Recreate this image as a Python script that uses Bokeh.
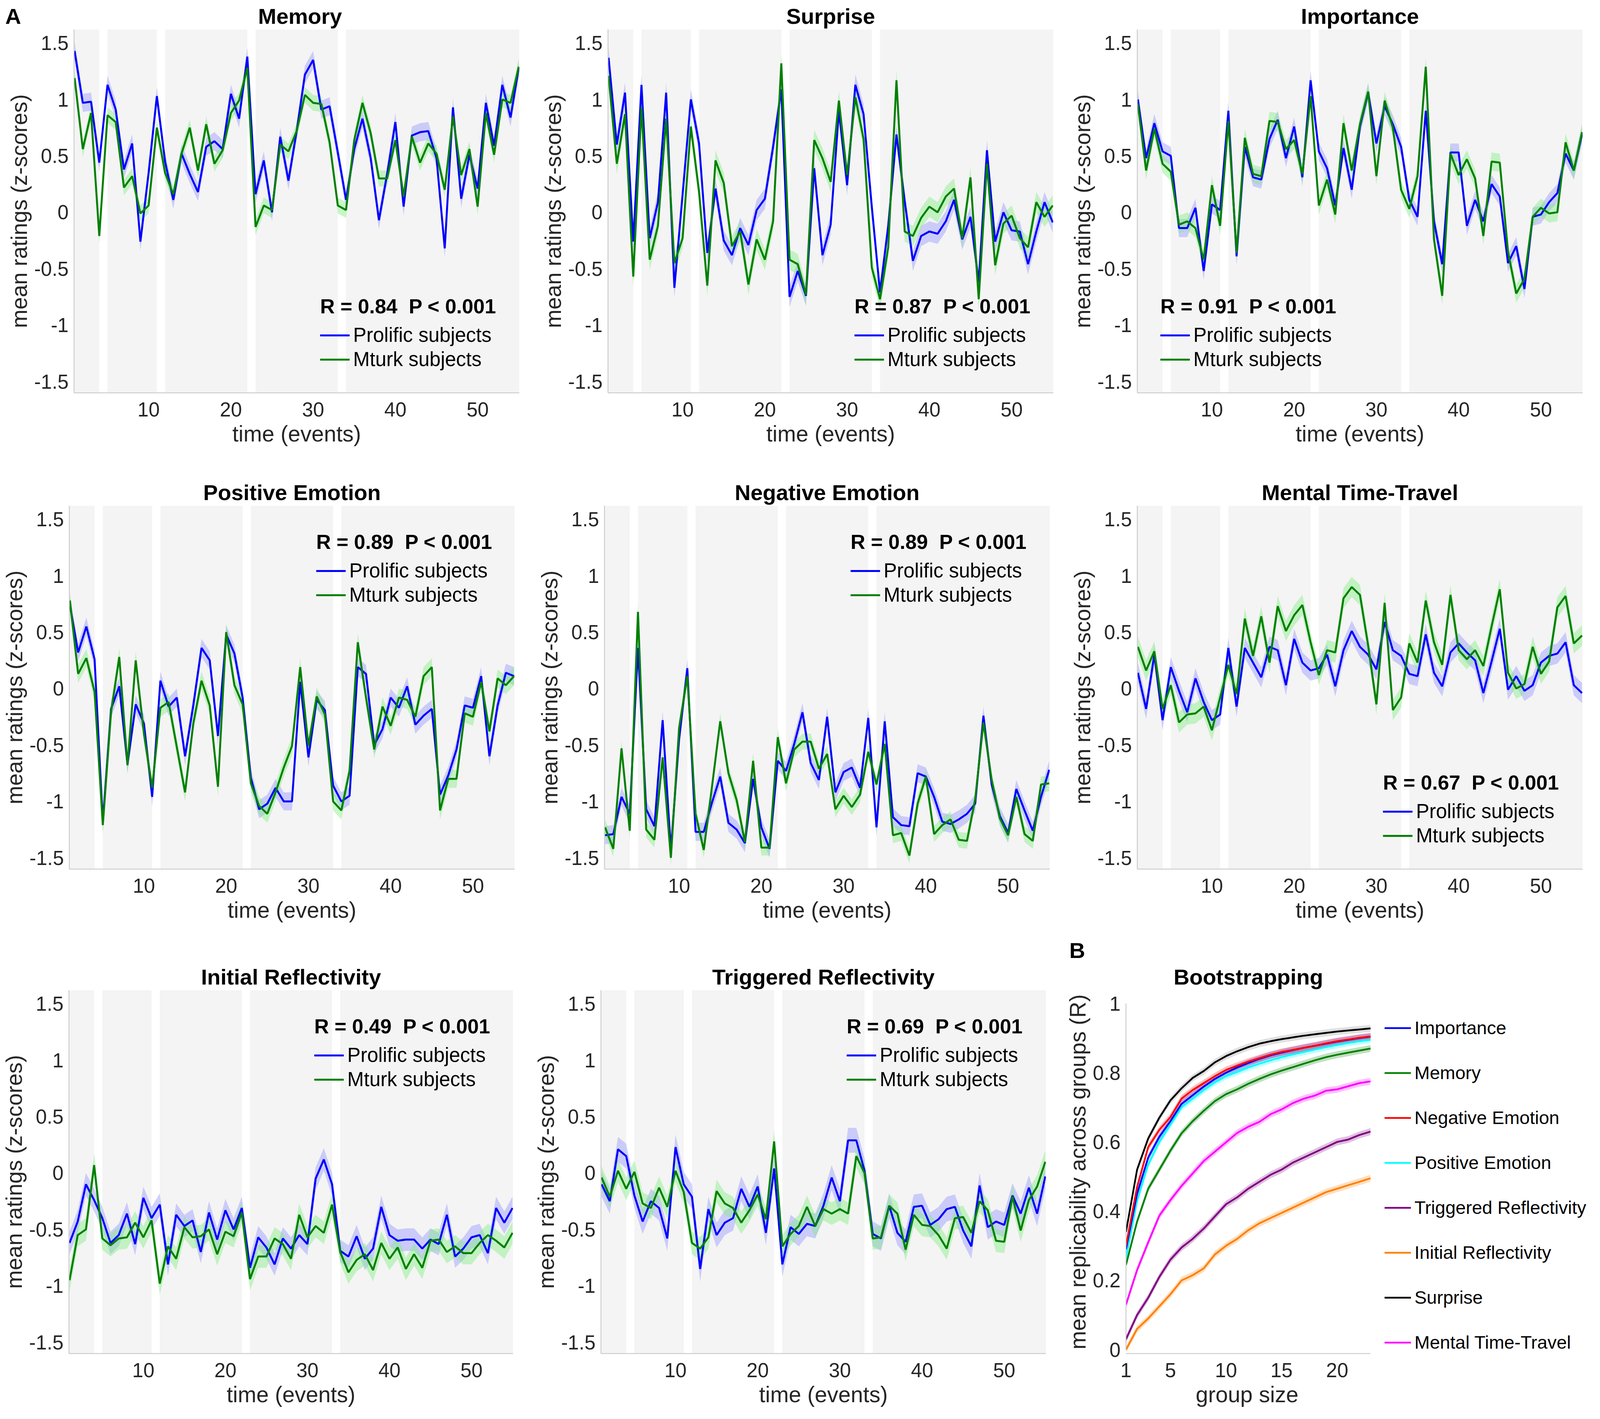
from bokeh.plotting import figure
from bokeh.models import (Range1d, FixedTicker, Legend, LegendItem, Label,
                          BoxAnnotation, CustomJSTickFormatter, Title)
from bokeh.layouts import row, column
from bokeh.embed import file_html
from bokeh.resources import INLINE

# ---------------------------------------------------------------- data
events = list(range(1, 56))
segment_starts = [1, 5, 12, 23, 34]
segment_ends = [4, 11, 22, 33, 55]

y_ticks = [-1.5, -1, -0.5, 0, 0.5, 1, 1.5]
y_tick_labels = ["-1.5", "-1", "-0.5", "0", "0.5", "1", "1.5"]
x_ticks = [10, 20, 30, 40, 50]
x_tick_labels = ["10", "20", "30", "40", "50"]

memory_prolific = [1.43, 0.97, 0.98, 0.44, 1.13, 0.91, 0.38, 0.61, -0.26, 0.35,
                   1.03, 0.45, 0.11, 0.52, 0.34, 0.18, 0.58, 0.63, 0.56, 1.05,
                   0.83, 1.38, 0.16, 0.46, 0.00, 0.67, 0.28, 0.72, 1.22, 1.35,
                   0.91, 0.94, 0.53, 0.11, 0.56, 0.83, 0.48, -0.07, 0.34, 0.80,
                   0.05, 0.68, 0.71, 0.72, 0.48, -0.32, 0.93, 0.12, 0.51, 0.21,
                   0.97, 0.59, 1.13, 0.84, 1.28]
memory_mturk = [1.19, 0.56, 0.88, -0.21, 0.86, 0.80, 0.22, 0.32, -0.01, 0.06,
                0.75, 0.35, 0.16, 0.52, 0.75, 0.37, 0.78, 0.43, 0.55, 0.88,
                0.99, 1.28, -0.13, 0.06, 0.02, 0.60, 0.54, 0.72, 1.04, 0.97,
                0.96, 0.62, 0.06, 0.02, 0.64, 0.97, 0.70, 0.30, 0.30, 0.64,
                0.14, 0.67, 0.44, 0.61, 0.52, 0.20, 0.85, 0.33, 0.56, 0.05,
                0.88, 0.51, 1.00, 0.97, 1.29]
surprise_prolific = [1.37, 0.60, 1.06, -0.26, 1.13, -0.23, 0.09, 1.06, -0.67, 0.16,
                     1.00, 0.61, -0.36, 0.21, -0.25, -0.38, -0.14, -0.29, 0.02, 0.12,
                     0.58, 1.09, -0.75, -0.52, -0.74, 0.39, -0.38, -0.11, 0.90, 0.24,
                     1.13, 0.87, 0.05, -0.71, -0.12, 0.69, 0.10, -0.43, -0.21, -0.17,
                     -0.19, -0.08, 0.11, -0.24, -0.04, -0.62, 0.55, -0.26, 0.00, -0.16,
                     -0.17, -0.46, -0.17, 0.09, -0.09]
surprise_mturk = [1.21, 0.43, 0.87, -0.57, 0.93, -0.42, -0.12, 0.83, -0.45, -0.23,
                  0.76, 0.18, -0.65, 0.46, 0.26, -0.30, -0.17, -0.64, -0.24, -0.42,
                  -0.08, 1.32, -0.42, -0.46, -0.73, 0.64, 0.48, 0.27, 0.99, 0.33,
                  1.02, 0.65, -0.49, -0.77, -0.31, 1.17, -0.17, -0.21, -0.05, 0.05,
                  0.00, 0.14, 0.21, -0.23, 0.31, -0.77, 0.43, -0.47, -0.10, -0.03,
                  -0.23, -0.31, 0.09, -0.04, 0.06]
importance_prolific = [1.00, 0.48, 0.79, 0.54, 0.50, -0.14, -0.14, 0.04, -0.52, 0.07,
                       0.02, 0.90, -0.39, 0.58, 0.31, 0.29, 0.65, 0.82, 0.48, 0.76,
                       0.31, 1.17, 0.54, 0.39, 0.06, 0.57, 0.20, 0.76, 1.06, 0.61,
                       0.94, 0.78, 0.58, 0.11, -0.04, 0.90, -0.08, -0.46, 0.53, 0.53,
                       -0.12, 0.11, -0.08, 0.25, 0.14, -0.45, -0.30, -0.68, -0.04, -0.02,
                       0.09, 0.17, 0.52, 0.37, 0.69]
importance_mturk = [0.96, 0.37, 0.74, 0.43, 0.36, -0.11, -0.08, -0.14, -0.42, 0.24,
                    -0.12, 0.81, -0.36, 0.66, 0.34, 0.32, 0.81, 0.80, 0.56, 0.64,
                    0.34, 1.03, 0.06, 0.29, -0.02, 0.79, 0.37, 0.78, 1.07, 0.32,
                    0.99, 0.75, 0.20, 0.03, 0.32, 1.29, -0.24, -0.74, 0.52, 0.33,
                    0.47, 0.30, -0.21, 0.45, 0.44, -0.35, -0.72, -0.59, -0.04, 0.04,
                    -0.01, 0.00, 0.62, 0.37, 0.71]
positive_prolific = [0.74, 0.32, 0.55, 0.26, -1.18, -0.18, 0.02, -0.67, -0.14, -0.31,
                     -0.96, 0.07, -0.16, -0.08, -0.60, -0.15, 0.36, 0.25, -0.42, 0.48,
                     0.31, -0.08, -0.79, -1.07, -1.02, -0.88, -1.00, -1.00, 0.06, -0.61,
                     -0.10, -0.19, -0.86, -1.00, -0.95, 0.19, 0.13, -0.50, -0.36, -0.08,
                     -0.17, 0.02, -0.32, -0.24, -0.18, -0.94, -0.77, -0.54, -0.15, -0.17,
                     0.11, -0.60, -0.15, 0.14, 0.11]
positive_mturk = [0.78, 0.13, 0.27, -0.03, -1.21, -0.21, 0.28, -0.68, 0.25, -0.40,
                  -0.88, -0.17, -0.12, -0.52, -0.92, -0.31, 0.07, -0.15, -0.87, 0.50,
                  0.03, -0.14, -0.84, -1.04, -1.11, -0.92, -0.70, -0.51, 0.19, -0.51,
                  -0.07, -0.23, -1.00, -1.08, -0.73, 0.41, -0.08, -0.54, -0.16, -0.33,
                  -0.08, -0.10, -0.25, 0.11, 0.19, -1.08, -0.80, -0.80, -0.22, -0.25,
                  0.06, -0.38, 0.09, 0.03, 0.11]
negative_prolific = [-1.30, -1.29, -0.96, -1.11, 0.36, -1.07, -1.22, -0.28, -1.43, -0.45,
                     0.18, -1.27, -1.27, -1.01, -0.78, -1.19, -1.25, -1.37, -0.80, -1.23,
                     -1.42, -0.64, -0.73, -0.49, -0.21, -0.66, -0.81, -0.25, -0.92, -0.74,
                     -0.70, -0.88, -0.26, -1.23, -0.29, -1.14, -1.21, -1.22, -0.75, -0.78,
                     -0.96, -1.18, -1.20, -1.16, -1.11, -1.02, -0.24, -0.85, -1.13, -1.28,
                     -0.89, -1.08, -1.26, -0.96, -0.72]
negative_mturk = [-1.23, -1.42, -0.53, -1.26, 0.68, -1.25, -1.34, -0.61, -1.50, -0.35,
                  0.11, -1.11, -1.43, -0.87, -0.29, -0.75, -0.99, -1.36, -0.64, -1.41,
                  -1.41, -0.43, -0.84, -0.54, -0.47, -0.47, -0.71, -0.58, -1.07, -0.95,
                  -1.05, -0.94, -0.56, -0.85, -0.49, -1.30, -1.28, -1.48, -1.02, -0.78,
                  -1.29, -1.21, -1.16, -1.34, -1.35, -0.98, -0.30, -0.81, -1.15, -1.30,
                  -0.96, -1.29, -1.35, -0.85, -0.84]
mental_prolific = [0.14, -0.18, 0.30, -0.28, 0.19, -0.02, -0.21, 0.09, -0.12, -0.28,
                   -0.23, 0.36, -0.16, 0.36, 0.23, 0.10, 0.37, 0.34, 0.03, 0.44,
                   0.23, 0.16, 0.18, 0.30, 0.02, 0.34, 0.51, 0.37, 0.30, 0.17,
                   0.59, 0.34, 0.29, 0.13, 0.11, 0.48, 0.14, 0.02, 0.32, 0.40,
                   0.32, 0.25, -0.04, 0.24, 0.53, -0.01, 0.11, -0.02, 0.03, 0.23,
                   0.29, 0.31, 0.41, 0.03, -0.04]
mental_mturk = [0.37, 0.16, 0.33, -0.18, 0.03, -0.30, -0.23, -0.22, -0.16, -0.37,
                -0.08, 0.21, -0.05, 0.62, 0.29, 0.64, 0.23, 0.73, 0.51, 0.65,
                0.74, 0.41, 0.12, 0.34, 0.32, 0.80, 0.90, 0.83, 0.38, -0.14,
                0.76, -0.19, -0.08, 0.40, 0.23, 0.78, 0.41, 0.21, 0.83, 0.34,
                0.26, 0.34, 0.20, 0.55, 0.88, 0.14, 0.00, 0.04, 0.37, 0.13,
                0.24, 0.72, 0.82, 0.40, 0.47]
initial_prolific = [-0.62, -0.43, -0.10, -0.24, -0.40, -0.62, -0.55, -0.36, -0.63, -0.22,
                    -0.40, -0.28, -0.81, -0.37, -0.47, -0.42, -0.70, -0.35, -0.59, -0.33,
                    -0.50, -0.31, -0.84, -0.57, -0.66, -0.81, -0.58, -0.67, -0.55, -0.63,
                    -0.05, 0.12, -0.10, -0.69, -0.74, -0.56, -0.76, -0.67, -0.30, -0.55,
                    -0.60, -0.59, -0.59, -0.67, -0.59, -0.63, -0.37, -0.74, -0.67, -0.57,
                    -0.55, -0.71, -0.31, -0.44, -0.31]
initial_mturk = [-0.95, -0.55, -0.50, 0.07, -0.58, -0.64, -0.58, -0.57, -0.44, -0.57,
                 -0.42, -0.98, -0.65, -0.76, -0.48, -0.57, -0.56, -0.50, -0.72, -0.52,
                 -0.56, -0.35, -0.94, -0.74, -0.74, -0.58, -0.63, -0.76, -0.37, -0.57,
                 -0.47, -0.53, -0.28, -0.70, -0.88, -0.77, -0.72, -0.86, -0.62, -0.76,
                 -0.66, -0.85, -0.72, -0.84, -0.60, -0.59, -0.70, -0.65, -0.71, -0.71,
                 -0.62, -0.55, -0.60, -0.66, -0.53]
triggered_prolific = [-0.10, -0.25, 0.21, 0.15, -0.20, -0.43, -0.25, -0.31, -0.58, 0.23,
                      -0.10, -0.21, -0.85, -0.32, -0.55, -0.44, -0.40, -0.14, -0.30, -0.12,
                      -0.53, 0.04, -0.81, -0.48, -0.54, -0.45, -0.47, -0.29, -0.04, -0.25,
                      0.29, 0.29, 0.02, -0.54, -0.58, -0.29, -0.53, -0.61, -0.30, -0.29,
                      -0.46, -0.41, -0.32, -0.30, -0.51, -0.65, -0.11, -0.48, -0.43, -0.46,
                      -0.20, -0.36, -0.13, -0.36, -0.03]
triggered_mturk = [-0.04, -0.21, 0.02, -0.14, 0.01, -0.27, -0.31, -0.13, -0.30, 0.02,
                   -0.17, -0.62, -0.67, -0.57, -0.16, -0.27, -0.31, -0.44, -0.33, -0.19,
                   -0.41, 0.28, -0.65, -0.54, -0.47, -0.30, -0.47, -0.32, -0.36, -0.32,
                   -0.36, 0.15, 0.00, -0.58, -0.57, -0.29, -0.36, -0.68, -0.37, -0.46,
                   -0.47, -0.55, -0.67, -0.40, -0.39, -0.53, -0.25, -0.33, -0.60, -0.61,
                   -0.21, -0.51, -0.24, -0.12, 0.10]

# half widths of the shaded error bands (prolific, mturk)
sem_memory = (0.08, 0.07)
sem_surprise = (0.09, 0.09)
sem_importance = (0.08, 0.08)
sem_positive = (0.08, 0.08)
sem_negative = (0.08, 0.07)
sem_mental = (0.09, 0.09)
sem_initial = (0.10, 0.10)
sem_triggered = (0.11, 0.10)

r_memory, r_surprise, r_importance = "0.84", "0.87", "0.91"
r_positive, r_negative, r_mental = "0.89", "0.89", "0.67"
r_initial, r_triggered = "0.49", "0.69"

# bootstrapping panel
group_size = list(range(1, 24))
boot_names = ["Importance", "Memory", "Negative Emotion", "Positive Emotion",
              "Triggered Reflectivity", "Initial Reflectivity", "Surprise",
              "Mental Time-Travel"]
boot_importance = [0.29, 0.45, 0.555, 0.615, 0.66, 0.71, 0.735, 0.76, 0.782, 0.80, 0.815, 0.828,
                   0.84, 0.85, 0.858, 0.865, 0.872, 0.878, 0.884, 0.89, 0.895, 0.90, 0.904]
boot_memory = [0.245, 0.37, 0.465, 0.52, 0.575, 0.625, 0.66, 0.69, 0.718, 0.738, 0.752, 0.768,
               0.782, 0.795, 0.806, 0.816, 0.826, 0.836, 0.845, 0.852, 0.858, 0.864, 0.87]
boot_negative = [0.30, 0.47, 0.585, 0.635, 0.672, 0.725, 0.75, 0.77, 0.79, 0.808, 0.82, 0.832,
                 0.842, 0.852, 0.86, 0.866, 0.872, 0.878, 0.885, 0.891, 0.896, 0.901, 0.905]
boot_positive = [0.265, 0.43, 0.535, 0.60, 0.65, 0.70, 0.725, 0.75, 0.772, 0.79, 0.802, 0.815,
                 0.826, 0.836, 0.845, 0.853, 0.86, 0.867, 0.874, 0.88, 0.886, 0.891, 0.895]
boot_triggered = [0.03, 0.10, 0.15, 0.21, 0.26, 0.295, 0.32, 0.35, 0.385, 0.42, 0.44, 0.465,
                  0.485, 0.505, 0.52, 0.54, 0.555, 0.57, 0.585, 0.60, 0.607, 0.62, 0.63]
boot_initial = [0.0, 0.06, 0.09, 0.125, 0.16, 0.20, 0.215, 0.235, 0.275, 0.30, 0.32, 0.345,
                0.365, 0.38, 0.395, 0.41, 0.425, 0.44, 0.455, 0.465, 0.475, 0.485, 0.495]
boot_surprise = [0.34, 0.52, 0.61, 0.67, 0.72, 0.755, 0.785, 0.805, 0.83, 0.848, 0.862, 0.874,
                 0.884, 0.891, 0.897, 0.902, 0.907, 0.911, 0.915, 0.919, 0.922, 0.925, 0.928]
boot_mental = [0.13, 0.23, 0.31, 0.387, 0.432, 0.473, 0.509, 0.545, 0.572, 0.599, 0.626, 0.644,
               0.658, 0.68, 0.694, 0.712, 0.725, 0.734, 0.748, 0.752, 0.761, 0.77, 0.775]
boot_band = 0.01
boot_x_ticks = [1, 5, 10, 15, 20]
boot_x_labels = ["1", "5", "10", "15", "20"]
boot_y_ticks = [0, 0.2, 0.4, 0.6, 0.8, 1]
boot_y_labels = ["0", "0.2", "0.4", "0.6", "0.8", "1"]

# ---------------------------------------------------------------- style
FONT = "Liberation Sans"
TEXT = "#262626"
AXIS_GRAY = "#c4c4c4"
BG_GRAY = "#f4f4f4"
BLUE, GREEN = "#0000ff", "#008000"
BLUE_BAND, GREEN_BAND = "#9a9aff", "#86ee86"
boot_colors = ["#0000ff", "#008000", "#ff0000", "#00ffff", "#800080", "#ff8000",
               "#000000", "#ff00ff"]

FRAME_W, FRAME_H = 1140, 930
ROW_H = [1219, 1175, 1228]
ROW_TOP = [75, 75, 140]
COL_W = [1362, 1360, 1366]
TICK_FS, LABEL_FS, TITLE_FS = "51px", "57px", "56px"
NBSP = "\u00a0"


def style_axes(p, xt, xl, yt, yl, xlabel, ylabel):
    p.xaxis.ticker = FixedTicker(ticks=xt)
    p.yaxis.ticker = FixedTicker(ticks=yt)
    p.xaxis.major_label_overrides = dict(zip(xt, xl))
    p.yaxis.major_label_overrides = dict(zip(yt, yl))
    fmt = "return tick.toString();"
    p.xaxis.formatter = CustomJSTickFormatter(code=fmt)
    p.yaxis.formatter = CustomJSTickFormatter(code=fmt)
    p.xaxis.axis_label = xlabel
    p.yaxis.axis_label = ylabel
    for ax in (p.xaxis[0], p.yaxis[0]):
        ax.axis_line_color = AXIS_GRAY
        ax.axis_line_width = 2
        ax.major_tick_in = 0
        ax.major_tick_out = 0
        ax.minor_tick_line_color = None
        ax.major_tick_line_color = None
        ax.major_label_text_font = FONT
        ax.major_label_text_font_size = TICK_FS
        ax.major_label_text_color = TEXT
        ax.axis_label_text_font = FONT
        ax.axis_label_text_font_size = LABEL_FS
        ax.axis_label_text_font_style = "normal"
        ax.axis_label_text_color = TEXT
    p.xaxis.major_label_standoff = 24
    p.xaxis.axis_label_standoff = 9
    p.yaxis.major_label_standoff = 14
    p.yaxis.axis_label_standoff = 4
    p.xgrid.visible = False
    p.ygrid.visible = False
    p.outline_line_color = None
    p.background_fill_color = "white"
    p.border_fill_color = "white"


def style_title(t, text, standoff, align="center", offset=0):
    t.text = text
    t.align = align
    t.offset = offset
    t.text_font = FONT
    t.text_font_size = TITLE_FS
    t.text_font_style = "bold"
    t.text_color = "black"
    t.standoff = standoff


def event_panel(title, prolific, mturk, sem, r_value, legend_top, legend_x,
                left_border, col, rowi, title_align="center", title_offset=0):
    w, h, top = COL_W[col], ROW_H[rowi], ROW_TOP[rowi]
    p = figure(width=w, height=h, x_range=Range1d(0.93, 55.07), y_range=Range1d(-1.6, 1.62),
               output_backend="svg", toolbar_location=None,
               min_border_left=left_border, min_border_right=w - left_border - FRAME_W,
               min_border_top=top, min_border_bottom=h - top - FRAME_H)
    style_title(p.title, title, 6, title_align, title_offset)
    style_axes(p, x_ticks, x_tick_labels, y_ticks, y_tick_labels,
               "time (events)", "mean ratings (z-scores)")
    n = len(segment_starts)
    for i, (s, e) in enumerate(zip(segment_starts, segment_ends)):
        p.add_layout(BoxAnnotation(left=None if i == 0 else s,
                                   right=None if i == n - 1 else e,
                                   fill_color=BG_GRAY, fill_alpha=1.0,
                                   line_color=None, level="underlay"))
    sp, sm = sem
    p.varea(x=events, y1=[v - sp for v in prolific], y2=[v + sp for v in prolific],
            fill_color=BLUE_BAND, fill_alpha=0.45)
    p.varea(x=events, y1=[v - sm for v in mturk], y2=[v + sm for v in mturk],
            fill_color=GREEN_BAND, fill_alpha=0.45)
    lb = p.line(events, prolific, line_color=BLUE, line_width=5)
    lg = p.line(events, mturk, line_color=GREEN, line_width=5)

    legend = Legend(items=[LegendItem(label="Prolific subjects", renderers=[lb]),
                           LegendItem(label="Mturk subjects", renderers=[lg])],
                    location=(legend_x, 672 if legend_top else 56),
                    label_text_font=FONT, label_text_font_size="51px",
                    label_text_color="black", glyph_width=76, glyph_height=40,
                    label_standoff=9, spacing=3, padding=0, margin=0,
                    border_line_alpha=0, background_fill_alpha=0)
    p.add_layout(legend)
    p.add_layout(Label(x=legend_x, y=838 if legend_top else 222,
                       x_units="screen", y_units="screen",
                       text=f"R = {r_value} {NBSP}P < 0.001", text_font=FONT,
                       text_font_size="52px", text_font_style="bold",
                       text_color="black", text_baseline="middle", text_align="left"))
    return p


# panel letter "A" shares the first title line, separated by fixed-width spaces
memory_heading = "A" + NBSP * 39 + "Memory"
p_mem = event_panel(memory_heading, memory_prolific, memory_mturk, sem_memory, r_memory,
                    False, 630, 189, 0, 0, title_align="left", title_offset=-176)
p_sur = event_panel("Surprise", surprise_prolific, surprise_mturk, sem_surprise, r_surprise,
                    False, 631, 194, 1, 0)
p_imp = event_panel("Importance", importance_prolific, importance_mturk, sem_importance,
                    r_importance, False, 59, 189, 2, 0)
p_pos = event_panel("Positive Emotion", positive_prolific, positive_mturk, sem_positive,
                    r_positive, True, 632, 177, 0, 1)
p_neg = event_panel("Negative Emotion", negative_prolific, negative_mturk, sem_negative,
                    r_negative, True, 630, 185, 1, 1)
p_men = event_panel("Mental Time-Travel", mental_prolific, mental_mturk, sem_mental,
                    r_mental, False, 629, 189, 2, 1)
p_ini = event_panel("Initial Reflectivity", initial_prolific, initial_mturk, sem_initial,
                    r_initial, True, 628, 173, 0, 2)
p_tri = event_panel("Triggered Reflectivity", triggered_prolific, triggered_mturk,
                    sem_triggered, r_triggered, True, 629, 175, 1, 2)

# ---------------------------------------------------------------- panel B
B_PLOT_W = 626                 # width of the drawn axes (group size 1..23)
B_PX_PER_UNIT = B_PLOT_W / 22.0
B_PX_PER_R = 886.0
b_left = 160
b_frame_w = COL_W[2] - b_left
b_top, b_bottom = ROW_TOP[2], ROW_H[2] - ROW_TOP[2] - FRAME_H
pb = figure(width=COL_W[2], height=ROW_H[2],
            x_range=Range1d(1, 1 + b_frame_w / B_PX_PER_UNIT),
            y_range=Range1d(-10 / B_PX_PER_R, -10 / B_PX_PER_R + FRAME_H / B_PX_PER_R),
            output_backend="svg", toolbar_location=None,
            min_border_left=b_left, min_border_right=0,
            min_border_top=b_top, min_border_bottom=b_bottom)
# the frame also holds the legend; trailing fixed spaces keep the x label
# centred under the drawn axis (group size 1..23)
style_axes(pb, boot_x_ticks, boot_x_labels, boot_y_ticks, boot_y_labels,
           "group size" + NBSP * 37, "mean replicability across groups (R)")
pb.xaxis.bounds = (1, 23)
pb.yaxis.bounds = (0, 1)
style_title(pb.title, "", 0)
t_boot = Title()
style_title(t_boot, "Bootstrapping", 6, "left", 122)
pb.add_layout(t_boot, "above")
t_b = Title()
style_title(t_b, "B", 0, "left", -145)
pb.add_layout(t_b, "above")

boot_series = [boot_importance, boot_memory, boot_negative, boot_positive,
               boot_triggered, boot_initial, boot_surprise, boot_mental]
draw_order = [5, 4, 7, 1, 3, 0, 2, 6]
renderers = {}
for i in draw_order:
    vals, col = boot_series[i], boot_colors[i]
    pb.varea(x=group_size, y1=[v - boot_band for v in vals], y2=[v + boot_band for v in vals],
             fill_color=col if col != "#000000" else "#808080", fill_alpha=0.25)
for i in draw_order:
    renderers[i] = pb.line(group_size, boot_series[i], line_color=boot_colors[i], line_width=4.5)

b_legend = Legend(items=[LegendItem(label=boot_names[i], renderers=[renderers[i]])
                         for i in range(len(boot_names))],
                  location=(B_PLOT_W + 36, 1),
                  label_text_font=FONT, label_text_font_size="47px",
                  label_text_color="black", glyph_width=68, glyph_height=40,
                  label_standoff=9, spacing=60, padding=0, margin=0,
                  border_line_alpha=0, background_fill_alpha=0)
pb.add_layout(b_legend)

layout = column(row(p_mem, p_sur, p_imp),
                row(p_pos, p_neg, p_men),
                row(p_ini, p_tri, pb))

with open("out.html", "w") as f:
    f.write(file_html(layout, INLINE))
